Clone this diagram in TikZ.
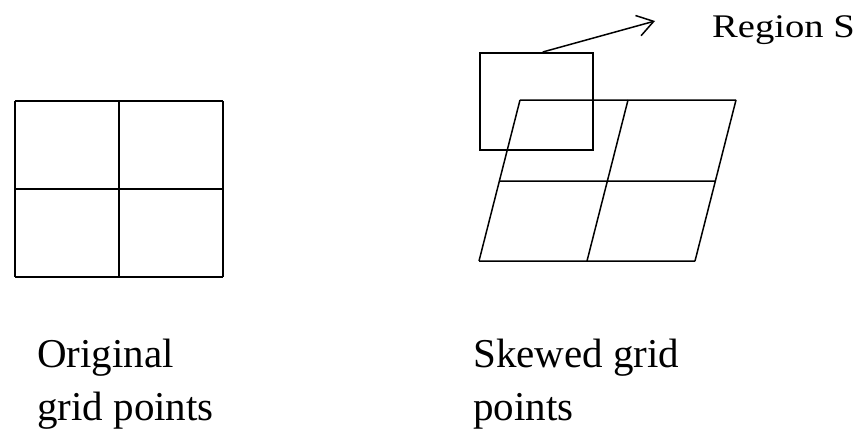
\documentclass[tikz,border=0pt]{standalone}
\usepackage{fontspec}
\setmainfont{Liberation Serif}
\usetikzlibrary{arrows.meta}
\tikzset{
  caption/.style={anchor=base west, inner sep=0pt, font=\fontsize{41}{49}\selectfont},
  gridline/.style={line width=1.5pt, black}
}
\begin{document}
\begin{tikzpicture}[x=1pt,y=-1pt]
	  \useasboundingbox (0,0) rectangle (865,439);
	  % original grid points
	  \foreach \r/\y in {0/101, 1/189, 2/277}{
	  	\foreach \c in {0,1,2}{
	  		\coordinate (o\r\c) at (15+104*\c,\y);
	  	}
	  }
	  % skewed grid points
	  \foreach \r/\y/\x in {0/100/520, 1/181/499.5, 2/261/479}{
	  	\foreach \c in {0,1,2}{
	  		\coordinate (s\r\c) at (\x+108*\c,\y);
	  	}
	  }
	  \foreach \i in {0,1,2}{
	  	\draw [gridline] (o\i0) -- (o\i2) (o0\i) -- (o2\i);
	  	\draw [gridline] (s\i0) -- (s\i2) (s0\i) -- (s2\i);
	  }
	  \node [draw,line width=1.5pt,anchor=north west,inner sep=0pt,minimum width=113pt,minimum height=97pt] at (479,52) (regbox) {};
	  \node [anchor=base west,inner sep=0pt,font=\fontsize{33}{40}\selectfont,xscale=1.17,transform shape] at (712,37) (regS) {Region S};
	  \coordinate (tip) at (655,21);
	  \draw [line width=1.5pt,-{Straight Barb[length=16pt,width=21pt,line width=1.5pt]}] ([xshift=6.5pt]regbox.north) -- (tip);
	  \node [caption] at (37,367) (orig1) {Original};
	  \node [caption] at (37,420) (orig2) {grid points};
	  \node [caption] at (473,367) (skew1) {Skewed grid};
	  \node [caption] at (473,420) (skew2) {points};
	\end{tikzpicture}
\end{document}
